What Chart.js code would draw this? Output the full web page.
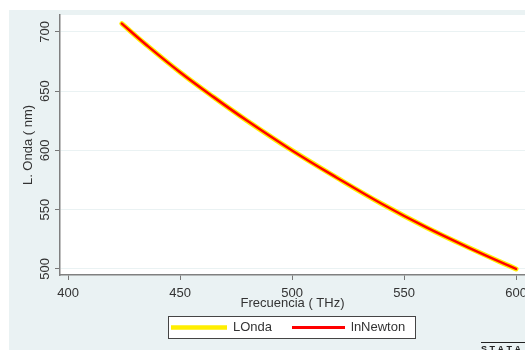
<!DOCTYPE html>
<html>
<head>
<meta charset="utf-8">
<script src="https://cdn.jsdelivr.net/npm/chart.js@4/dist/chart.umd.min.js"></script>
<style>
  html, body { margin: 0; padding: 0; background: #fff; }
  #wrap { width: 525px; height: 350px; }
</style>
</head>
<body>
<div id="wrap"><canvas id="graph"></canvas></div>
<script>
// values
const frecuencia = [424, 435, 450, 465, 480, 500, 520, 540, 560, 580, 600];
const lOnda = [707, 689, 666, 645, 625, 600, 577, 555, 535, 517, 500];
const lnNewton = [707, 689, 666, 645, 625, 600, 577, 555, 535, 517, 500];
const xTicks = [400, 450, 500, 550, 600];
const yTicks = [500, 550, 600, 650, 700];
const seriesNames = ['LOnda', 'lnNewton'];

const fontFam = "'Liberation Sans', Arial, sans-serif";
const textColor = '#333';
const bluish = '#eaf2f3';

function toPoints(xs, ys) {
    return xs.map((x, i) => ({ x: x, y: ys[i] }));
}

// background, rotated y labels, legend box
const stataLook = {
    id: 'stataLook',
    beforeDraw(chart) {
        const ctx = chart.ctx;
        const a = chart.chartArea;
        ctx.save();
        ctx.fillStyle = '#fff';
        ctx.fillRect(0, 0, chart.width, chart.height);
        ctx.fillStyle = bluish;
        ctx.fillRect(9, 10, chart.width - 9, chart.height - 10);
        ctx.fillStyle = '#fff';
        ctx.fillRect(a.left, a.top, a.right - a.left, a.bottom - a.top);
        ctx.restore();
    },
    afterDraw(chart) {
        const ctx = chart.ctx;
        const yScale = chart.scales.y;
        ctx.save();
        ctx.font = '13px ' + fontFam;
        ctx.fillStyle = textColor;
        ctx.textAlign = 'center';
        ctx.textBaseline = 'middle';
        yTicks.forEach(v => {
            const py = yScale.getPixelForValue(v);
            ctx.save();
            ctx.translate(45, py);
            ctx.rotate(-Math.PI / 2);
            ctx.fillText(String(v), 0, 0);
            ctx.restore();
        });

        // legend
        const lx = 168, ly = 316, lw = 247, lh = 22;
        ctx.fillStyle = '#fff';
        ctx.fillRect(lx, ly, lw, lh);
        ctx.strokeStyle = '#444';
        ctx.lineWidth = 1;
        ctx.strokeRect(lx + 0.5, ly + 0.5, lw, lh);
        const mid = ly + lh / 2 + 0.5;
        const ds = chart.data.datasets;
        const items = [
            { x0: 171, x1: 227, tx: 233 },
            { x0: 292, x1: 345, tx: 351 }
        ];
        items.forEach((it, i) => {
            ctx.strokeStyle = ds[i].borderColor;
            ctx.lineWidth = i === 0 ? 4.5 : 3;
            ctx.beginPath();
            ctx.moveTo(it.x0, mid);
            ctx.lineTo(it.x1, mid);
            ctx.stroke();
            ctx.fillStyle = textColor;
            ctx.textAlign = 'left';
            ctx.fillText(ds[i].label, it.tx, mid);
        });

        // stata mark, cut off at the corner
        ctx.fillStyle = '#222';
        ctx.font = 'bold 9px ' + fontFam;
        ctx.textBaseline = 'alphabetic';
        ctx.fillText('S T A T A', 481, 352);
        ctx.fillRect(481, 342, 44, 1);
        ctx.restore();
    }
};

const ctx = document.getElementById('graph').getContext('2d');
new Chart(ctx, {
    type: 'line',
    data: {
        datasets: [{
            label: seriesNames[0],
            data: toPoints(frecuencia, lOnda),
            borderColor: '#ffee00',
            borderWidth: 5,
            pointRadius: 0,
            tension: 0.4,
            borderCapStyle: 'round',
            order: 2
        }, {
            label: seriesNames[1],
            data: toPoints(frecuencia, lnNewton),
            borderColor: '#ff0000',
            borderWidth: 2.5,
            pointRadius: 0,
            tension: 0.4,
            borderCapStyle: 'round',
            order: 1
        }]
    },
    options: {
        responsive: true,
        maintainAspectRatio: false,
        animation: false,
        layout: { padding: { top: 15, left: 0, right: 0, bottom: 0 } },
        plugins: {
            legend: { display: false },
            tooltip: { enabled: false }
        },
        scales: {
            x: {
                type: 'linear',
                min: 396.4,
                max: 604,
                afterBuildTicks: s => { s.ticks = xTicks.map(v => ({ value: v })); },
                afterFit: s => { s.height = 75; s.paddingLeft = 0; s.paddingRight = 0; },
                grid: { color: 'rgba(0,0,0,0)', tickColor: '#777', tickLength: 5, tickWidth: 1 },
                border: { display: true, color: '#808080', width: 1.5 },
                ticks: { color: textColor, font: { family: fontFam, size: 13 }, padding: 6, maxRotation: 0 },
                title: {
                    display: true,
                    text: 'Frecuencia ( THz)',
                    color: textColor,
                    font: { family: fontFam, size: 13 },
                    padding: { top: 0, bottom: 39 }
                }
            },
            y: {
                type: 'linear',
                min: 494.9,
                max: 714.3,
                afterBuildTicks: s => { s.ticks = yTicks.map(v => ({ value: v })); },
                afterFit: s => { s.width = 60; s.paddingTop = 0; s.paddingBottom = 0; },
                grid: { color: bluish, lineWidth: 1, tickColor: '#777', tickLength: 5, tickWidth: 1 },
                border: { display: true, color: '#808080', width: 1.5 },
                ticks: { display: false },
                title: {
                    display: true,
                    text: 'L. Onda ( nm)',
                    color: textColor,
                    font: { family: fontFam, size: 13 },
                    padding: { top: 21, bottom: 0 }
                }
            }
        }
    },
    plugins: [stataLook]
});
</script>
</body>
</html>
